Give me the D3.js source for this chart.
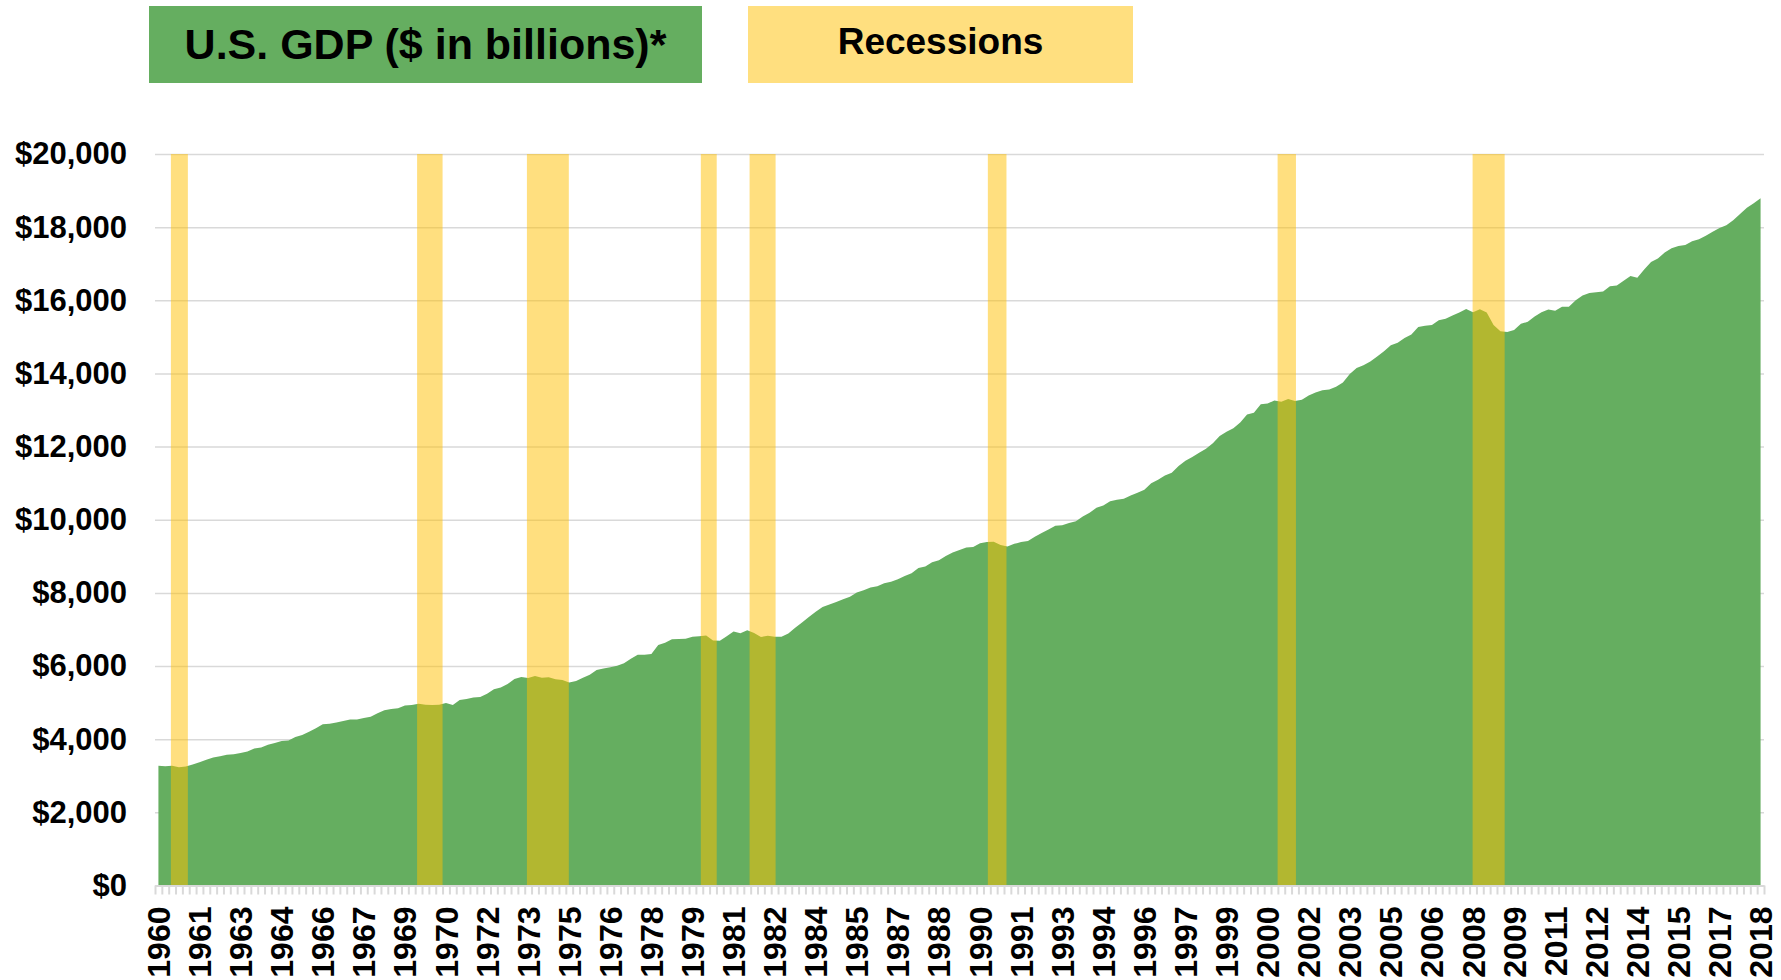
<!DOCTYPE html>
<html>
<head>
<meta charset="utf-8">
<script src="https://cdn.jsdelivr.net/npm/d3@7"></script>
<style>
  body { margin: 0; background: #fff; }
  svg { display: block; font-family: "Liberation Sans", Arial, sans-serif; font-weight: bold; }
</style>
</head>
<body>
<svg id="chart" width="1781" height="980"></svg>
<script>
// real GDP, quarterly, starting 1960 Q1 ($ in billions)
var startYear = 1960;
var gdp = [
  3276, 3258, 3274, 3232,   3254, 3309, 3373, 3439,   3500, 3532, 3575, 3587,
  3626, 3667, 3747, 3772,   3851, 3893, 3954, 3966,   4062, 4114, 4205, 4302,
  4407, 4422, 4459, 4496,   4536, 4538, 4581, 4616,   4710, 4789, 4826, 4845,
  4921, 4936, 4968, 4944,   4937, 4944, 4989, 4936,   5070, 5097, 5139, 5151,
  5246, 5365, 5416, 5506,   5643, 5704, 5674, 5728,   5679, 5692, 5638, 5617,
  5548, 5588, 5683, 5760,   5890, 5933, 5965, 6009,   6079, 6198, 6310, 6310,
  6330, 6574, 6640, 6730,   6742, 6749, 6799, 6816,   6838, 6697, 6689, 6814,
  6947, 6896, 6978, 6902,   6795, 6826, 6800, 6802,   6892, 7049, 7190, 7340,
  7483, 7613, 7686, 7749,   7824, 7893, 8014, 8073,   8149, 8185, 8264, 8308,
  8370, 8460, 8534, 8680,   8725, 8840, 8891, 9010,   9102, 9171, 9239, 9257,
  9358, 9392, 9398, 9313,   9269, 9342, 9389, 9422,   9534, 9638, 9733, 9835,
  9851, 9908, 9956, 10091,  10189, 10327, 10387, 10506, 10544, 10575, 10665, 10737,
  10818, 10998, 11097, 11212, 11285, 11472, 11616, 11715, 11832, 11942, 12092, 12287,
  12403, 12499, 12662, 12878, 12924, 13161, 13178, 13261, 13223, 13300, 13245, 13281,
  13397, 13478, 13538, 13559, 13634, 13752, 13985, 14146, 14221, 14330, 14465, 14610,
  14772, 14840, 14972, 15067, 15267, 15303, 15326, 15457, 15493, 15582, 15667, 15762,
  15671, 15752, 15667, 15328, 15156, 15134, 15189, 15356, 15415, 15557, 15672, 15751,
  15713, 15825, 15821, 16004, 16129, 16199, 16221, 16239, 16383, 16403, 16532, 16664,
  16617, 16841, 17047, 17143, 17306, 17423, 17486, 17514, 17613, 17668, 17764, 17876,
  17977, 18054, 18186, 18359, 18530, 18654, 18790
];

// recession shading, in decimal years
var recessionStart = [1960.58, 1969.57, 1973.58, 1979.93, 1981.71, 1990.41, 2000.99, 2008.11];
var recessionEnd   = [1961.20, 1970.50, 1975.11, 1980.51, 1982.66, 1991.09, 2001.66, 2009.28];

var yTicks = [0, 2000, 4000, 6000, 8000, 10000, 12000, 14000, 16000, 18000, 20000];
var labelEvery = 6;

var GREEN = "#65ae60";
var YELLOW = "#ffc000";
var GRID = "#d9d9d9";

var svg = d3.select("#chart");

var quarters = gdp.map(function (v, i) {
    return { key: (startYear + Math.floor(i / 4)) + " Q" + (i % 4 + 1), value: v };
});

var plotLeft = 155, plotRight = 1764, plotTop = 154, plotBottom = 885.5;

var x = d3.scaleBand()
    .domain(quarters.map(function (d) { return d.key; }))
    .range([plotLeft, plotRight])
    .padding(0);

// same span as the bands, but in years
var t = d3.scaleLinear()
    .domain([startYear, startYear + quarters.length / 4])
    .range([plotLeft, plotRight]);

var y = d3.scaleLinear()
    .domain([0, 20000])
    .range([plotBottom, plotTop]);

// title boxes
var titles = svg.append("g");
titles.append("rect")
    .attr("x", 149).attr("y", 6).attr("width", 553).attr("height", 77)
    .style("fill", GREEN);
titles.append("text")
    .attr("x", 425.5).attr("y", 44)
    .attr("dy", "0.36em")
    .style("text-anchor", "middle")
    .style("font-size", "43px")
    .text("U.S. GDP ($ in billions)*");
titles.append("rect")
    .attr("x", 748).attr("y", 6).attr("width", 385).attr("height", 77)
    .style("fill", YELLOW).style("fill-opacity", 0.5);
titles.append("text")
    .attr("x", 940.5).attr("y", 41)
    .attr("dy", "0.36em")
    .style("text-anchor", "middle")
    .style("font-size", "37px")
    .text("Recessions");

// gridlines + y labels
var yAxis = svg.append("g")
    .attr("transform", "translate(" + plotLeft + ",0)")
    .call(d3.axisLeft(y)
        .tickValues(yTicks)
        .tickSize(-(plotRight - plotLeft))
        .tickPadding(28)
        .tickFormat(function (d) { return "$" + d3.format(",")(d); }));
yAxis.select(".domain").remove();
yAxis.selectAll(".tick line")
    .style("stroke", GRID)
    .style("stroke-width", 1.5);
yAxis.selectAll(".tick text")
    .style("font-size", "31px")
    .style("font-family", "Liberation Sans, Arial, sans-serif")
    .style("font-weight", "bold")
    .style("fill", "#000");

// GDP area
var area = d3.area()
    .x(function (d) { return x(d.key) + x.bandwidth() / 2; })
    .y0(y(0))
    .y1(function (d) { return y(d.value); });

svg.append("path")
    .datum(quarters)
    .attr("d", area)
    .style("fill", GREEN);

// recession bars
svg.append("g").selectAll("rect.recession")
    .data(recessionStart)
    .enter().append("rect")
    .attr("class", "recession")
    .attr("x", function (d) { return t(d); })
    .attr("width", function (d, i) { return t(recessionEnd[i]) - t(d); })
    .attr("y", y(20000))
    .attr("height", y(0) - y(20000))
    .style("fill", YELLOW)
    .style("fill-opacity", 0.5);

// x axis: tick marks between quarters
var boundaries = d3.range(quarters.length + 1).map(function (i) { return startYear + i / 4; });
var xTicks = svg.append("g")
    .attr("transform", "translate(0," + plotBottom + ")")
    .call(d3.axisBottom(t).tickValues(boundaries).tickSize(9).tickSizeOuter(0).tickFormat(""));
xTicks.select(".domain").style("stroke", GRID).style("stroke-width", 2);
xTicks.selectAll(".tick line").style("stroke", GRID).style("stroke-width", 2);

// x axis labels, every 6th quarter
var labelKeys = quarters.filter(function (d, i) { return i % labelEvery === 0; }).map(function (d) { return d.key; });
var xLabels = svg.append("g")
    .attr("transform", "translate(0," + plotBottom + ")")
    .call(d3.axisBottom(x).tickValues(labelKeys).tickSize(0)
        .tickFormat(function (k) { return k.slice(0, 4); }));
xLabels.select(".domain").remove();
xLabels.selectAll(".tick text")
    .attr("transform", "rotate(-90)")
    .attr("x", -21)
    .attr("y", 0)
    .attr("dy", "0.36em")
    .style("text-anchor", "end")
    .style("font-size", "32px")
    .style("font-family", "Liberation Sans, Arial, sans-serif")
    .style("font-weight", "bold")
    .style("fill", "#000");
</script>
</body>
</html>
